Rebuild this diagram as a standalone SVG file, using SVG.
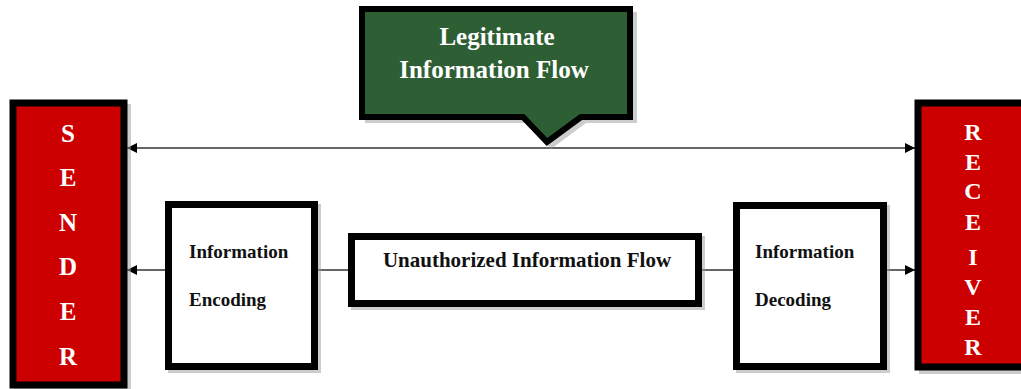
<svg xmlns="http://www.w3.org/2000/svg" width="1021" height="389" viewBox="0 0 1021 389">
<style>
.lbl{font-family:"Liberation Serif","Times New Roman",serif;font-weight:bold}
.big{font-size:25px;fill:#fff;text-anchor:middle}
.rcv{font-size:24px}
.box{fill:#fff;stroke:#000;stroke-width:7}
.txt{font-size:19px;fill:#111}
.conn{stroke:#333;stroke-width:1.5;fill:none}
.shadow{fill:#999;opacity:0.5}
</style>
<defs>
<marker id="ah" viewBox="0 0 10 10" refX="10" refY="5" markerWidth="10" markerHeight="10" markerUnits="userSpaceOnUse" orient="auto-start-reverse">
<path d="M0,0 L10,5 L0,10 Z" fill="#000"/>
</marker>
</defs>
<rect width="1021" height="389" fill="#fff"/>
<g id="connectors">
<line class="conn" x1="127" y1="148" x2="915" y2="148" marker-start="url(#ah)" marker-end="url(#ah)"/>
<line class="conn" x1="165" y1="270" x2="127" y2="270" marker-end="url(#ah)"/>
<line class="conn" x1="318" y1="270" x2="348" y2="270"/>
<line class="conn" x1="702" y1="270" x2="733" y2="270"/>
<line class="conn" x1="887" y1="270" x2="915" y2="270" marker-end="url(#ah)"/>
</g>
<g id="sender">
<rect class="shadow" x="14" y="104" width="117" height="288"/>
<rect x="13" y="103" width="111" height="282" fill="#cc0000" stroke="#000" stroke-width="7"/>
<text class="lbl big" x="68" y="142">S</text>
<text class="lbl big" x="68" y="186">E</text>
<text class="lbl big" x="68" y="231">N</text>
<text class="lbl big" x="68" y="275">D</text>
<text class="lbl big" x="68" y="320">E</text>
<text class="lbl big" x="68" y="365">R</text>
</g>
<g id="receiver">
<rect class="shadow" x="919" y="104" width="110" height="270"/>
<rect x="918" y="103" width="110" height="264" fill="#cc0000" stroke="#000" stroke-width="7"/>
<text class="lbl big rcv" x="973" y="140">R</text>
<text class="lbl big rcv" x="973" y="170">E</text>
<text class="lbl big rcv" x="973" y="199">C</text>
<text class="lbl big rcv" x="973" y="230">E</text>
<text class="lbl big rcv" x="973" y="265">I</text>
<text class="lbl big rcv" x="973" y="295">V</text>
<text class="lbl big rcv" x="973" y="325">E</text>
<text class="lbl big rcv" x="973" y="355">R</text>
</g>
<g id="legitimate">
<path class="shadow" d="M365,12 H637 V123 H586 L551,149 L527,123 H365 Z"/>
<path d="M362,9 H630 V117 H581 L547,142 L523,117 H362 Z" fill="#2e5e34" stroke="#000" stroke-width="6"/>
<text class="lbl" x="497" y="45" style="font-size:25px;fill:#fff;text-anchor:middle">Legitimate</text>
<text class="lbl" x="494" y="78" style="font-size:25px;fill:#fff;text-anchor:middle">Information Flow</text>
</g>
<g id="encoding">
<rect class="shadow" x="168" y="204" width="153" height="169"/>
<rect class="box" x="168.5" y="204.5" width="146" height="162"/>
<text class="lbl txt" x="189" y="258">Information</text>
<text class="lbl txt" x="189" y="306">Encoding</text>
</g>
<g id="unauthorized">
<rect class="shadow" x="351" y="236" width="354" height="74"/>
<rect class="box" x="351.5" y="236.5" width="347" height="67"/>
<text class="lbl" x="527" y="267" style="font-size:21px;fill:#111;text-anchor:middle">Unauthorized Information Flow</text>
</g>
<g id="decoding">
<rect class="shadow" x="736" y="205" width="154" height="168"/>
<rect class="box" x="736.5" y="205.5" width="147" height="161"/>
<text class="lbl txt" x="755" y="258">Information</text>
<text class="lbl txt" x="755" y="306">Decoding</text>
</g>
</svg>
